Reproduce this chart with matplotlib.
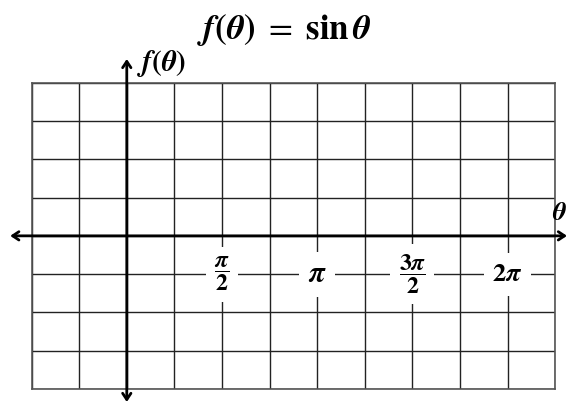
import matplotlib
matplotlib.use('Agg')
import matplotlib.pyplot as plt
import numpy as np

plt.rcParams['mathtext.fontset'] = 'stix'

# grid in units of pi/4 along theta, unit rows along f
x_min, x_max = -2, 9
y_min, y_max = -4, 4
tick_pos = [2, 4, 6, 8]
tick_labels = [r'$\dfrac{\boldsymbol{\pi}}{\mathbf{2}}$', r'$\boldsymbol{\pi}$',
               r'$\dfrac{\mathbf{3}\boldsymbol{\pi}}{\mathbf{2}}$', r'$\mathbf{2}\boldsymbol{\pi}$']
tick_sizes = [17, 21, 17, 19]

fig = plt.figure(figsize=(5.69, 4.03), dpi=100)
W, H = 569, 403
ax = fig.add_axes([31.6 / W, (H - 389) / H, (555.1 - 31.6) / W, (389 - 82.7) / H])
ax.set_xlim(x_min, x_max)
ax.set_ylim(y_min, y_max)
ax.set_xticks(np.arange(x_min, x_max + 1))
ax.set_yticks(np.arange(y_min, y_max + 1))
ax.tick_params(length=0, labelbottom=False, labelleft=False)
ax.grid(True, color='#222222', lw=1.0)
ax.set_axisbelow(True)
for s in ax.spines.values():
    s.set_color('#555555')
    s.set_linewidth(1.2)

# axes with arrows
arr = dict(arrowstyle='<->,head_length=0.45,head_width=0.3', lw=2.0, color='black',
           shrinkA=0, shrinkB=0)
ax.annotate('', xy=(9.25, 0), xytext=(-2.45, 0), arrowprops=arr, annotation_clip=False)
ax.annotate('', xy=(0, 4.62), xytext=(0, -4.34), arrowprops=arr, annotation_clip=False)

for p, lab, fs in zip(tick_pos, tick_labels, tick_sizes):
    ax.text(p, -1, lab, ha='center', va='center', fontsize=fs,
            bbox=dict(fc='white', ec='none', pad=6))

ax.text(0.22, 4.5, r'$\boldsymbol{f(\theta)}$', fontsize=21, ha='left', va='center')
ax.text(8.93, 0.6, r'$\boldsymbol{\theta}$', fontsize=19, ha='left', va='center')

fig.text(0.5, 0.925, r'$\boldsymbol{f(\theta)}\ =\ \mathbf{sin}\,\boldsymbol{\theta}$',
         fontsize=25, ha='center', va='center')

fig.savefig('out.png', dpi=100)
